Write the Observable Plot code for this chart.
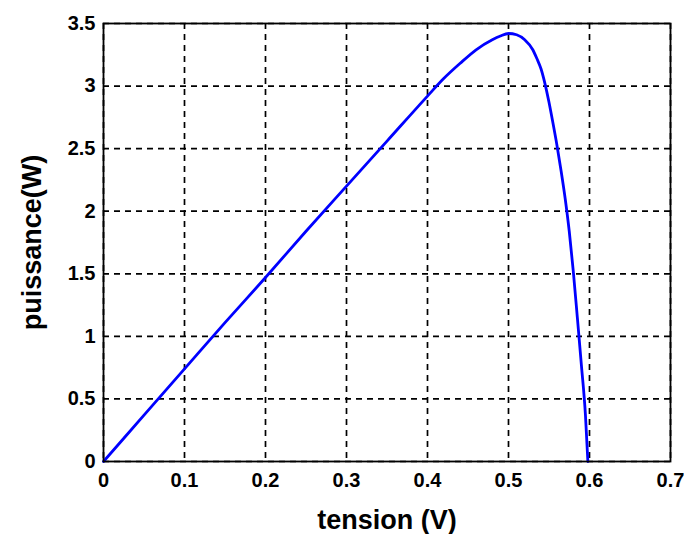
<!DOCTYPE html>
<html><head><meta charset="utf-8">
<script src="https://cdn.jsdelivr.net/npm/d3@7"></script>
<script src="https://cdn.jsdelivr.net/npm/@observablehq/plot@0.6"></script>
<style>body{margin:0;background:#fff}</style>
</head><body><div id="chart"></div>
<script>
const voltage = [0, 0.05, 0.1, 0.15, 0.2, 0.25, 0.3, 0.35, 0.4, 0.42, 0.44, 0.46, 0.48, 0.49, 0.5, 0.51, 0.52, 0.53, 0.535, 0.54, 0.545, 0.55, 0.555, 0.56, 0.565, 0.57, 0.575, 0.58, 0.585, 0.59, 0.595, 0.598];
const power   = [0, 0.37, 0.74, 1.11, 1.47, 1.84, 2.2, 2.56, 2.92, 3.06, 3.18, 3.29, 3.37, 3.40, 3.42, 3.41, 3.37, 3.29, 3.22, 3.14, 3.02, 2.87, 2.70, 2.52, 2.32, 2.10, 1.84, 1.52, 1.15, 0.77, 0.37, 0];
const xTicks = [0, 0.1, 0.2, 0.3, 0.4, 0.5, 0.6, 0.7];
const xTickLabels = ["0", "0.1", "0.2", "0.3", "0.4", "0.5", "0.6", "0.7"];
const yTicks = [0, 0.5, 1, 1.5, 2, 2.5, 3, 3.5];
const yTickLabels = ["0", "0.5", "1", "1.5", "2", "2.5", "3", "3.5"];
const xLabel = "tension (V)";
const yLabel = "puissance(W)";

const data = voltage.map((v, i) => ({v, p: power[i]}));
const font = "'Liberation Sans',Arial,sans-serif";

const chart = Plot.plot({
  width: 684, height: 534,
  marginLeft: 103, marginRight: 14, marginTop: 23, marginBottom: 73,
  style: {fontFamily: font, fontWeight: "bold", fontSize: "20px", color: "#000", background: "#fff"},
  x: {domain: [0, 0.7]},
  y: {domain: [0, 3.5]},
  marks: [
    Plot.gridX(xTicks, {stroke: "#000", strokeOpacity: 1, strokeWidth: 1.7, strokeDasharray: "6,5"}),
    Plot.gridY(yTicks, {stroke: "#000", strokeOpacity: 1, strokeWidth: 1.7, strokeDasharray: "6,5"}),
    Plot.axisX(xTicks, {tickSize: 0, tickPadding: 11, tickFormat: d => xTickLabels[xTicks.indexOf(d)], label: null, fontSize: 20, fontWeight: "bold"}),
    Plot.axisY(yTicks, {tickSize: 0, tickPadding: 8, tickFormat: d => yTickLabels[yTicks.indexOf(d)], label: null, fontSize: 20, fontWeight: "bold"}),
    Plot.line(data, {x: "v", y: "p", stroke: "#0000ff", strokeWidth: 2.8, curve: "monotone-x"}),
    Plot.frame({stroke: "#000", strokeWidth: 1.8}),
    Plot.text([xLabel], {frameAnchor: "bottom", dy: 59, lineAnchor: "middle", textAnchor: "middle", fontSize: 27, fontWeight: "bold", fill: "#000"}),
    Plot.text([yLabel], {frameAnchor: "left", dx: -71, rotate: -90, lineAnchor: "middle", textAnchor: "middle", fontSize: 27, fontWeight: "bold", fill: "#000"})
  ]
});
document.getElementById("chart").append(chart);
</script>
</body></html>
